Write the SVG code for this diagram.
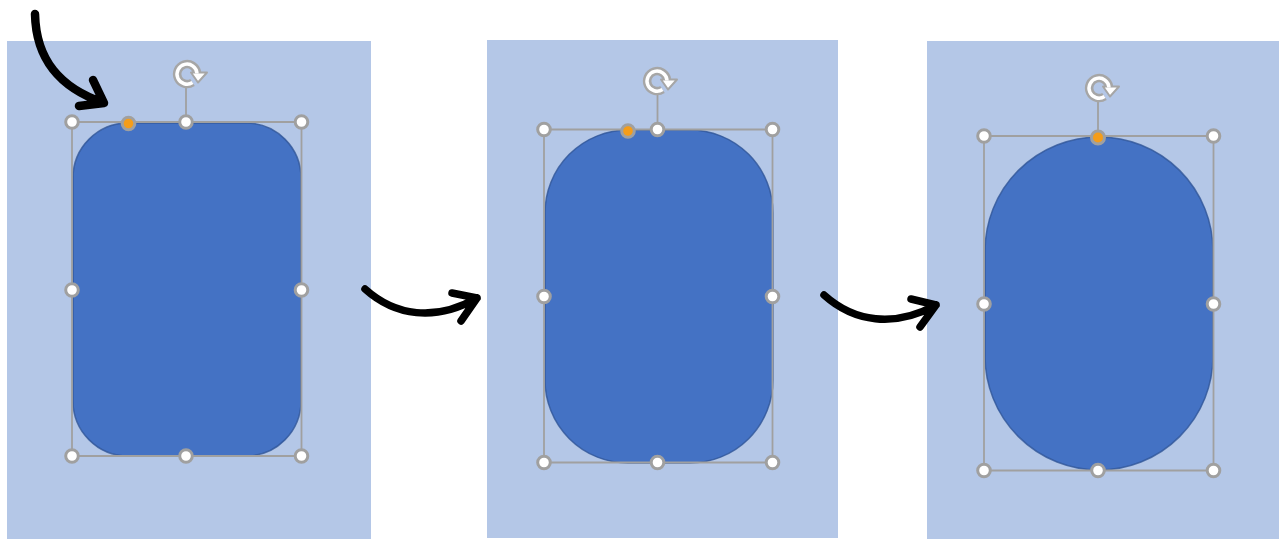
<svg xmlns="http://www.w3.org/2000/svg" xmlns:xlink="http://www.w3.org/1999/xlink" width="1279" height="539" viewBox="0 0 1279 539">
<style>
.panel{fill:#b4c7e7}
.shape{fill:#4472c4;stroke:#2f5597;stroke-opacity:.8;stroke-width:1.5}
.frame{fill:none;stroke:#a0a0a0;stroke-width:1.8}
.h{fill:#fff;stroke:#a0a0a0;stroke-width:3}
.o{fill:#f59d1a;stroke:#a0a0a0;stroke-width:3}
.ink{fill:none;stroke:#000;stroke-width:7.500;stroke-linecap:round;stroke-linejoin:round}
.ink2{fill:none;stroke:#000;stroke-width:8.500;stroke-linecap:round;stroke-linejoin:round}
.rotO{fill:none;stroke:#a6a6a6;stroke-width:8.500}
.rotI{fill:none;stroke:#fff;stroke-width:3.500}
</style>
<defs>
<g id="rot">
<path class="rotO" d="M6 8A10 10 0 1 1 10.500 -2"/>
<path d="M4.500 -2H20.500L11.500 8Z" fill="#fff" stroke="#a6a6a6" stroke-width="2" stroke-linejoin="round"/>
<path class="rotI" d="M6 8A10 10 0 1 1 10.500 -1"/>
</g>
</defs>
<rect class="panel" x="7" y="41" width="364" height="498"/>
<rect class="panel" x="487" y="40" width="351" height="498"/>
<rect class="panel" x="927" y="41" width="352" height="498"/>
<g id="node-1">
<rect class="shape" x="73" y="123" width="228" height="333" rx="55" ry="55"/>
<path class="frame" d="M72 122H301.500V456H72ZM186 122V88"/>
<use xlink:href="#rot" href="#rot" x="186.500" y="74.500"/>
<circle class="h" cx="72" cy="122" r="6.300"/><circle class="h" cx="186" cy="122" r="6.300"/><circle class="h" cx="301.500" cy="122" r="6.300"/>
<circle class="h" cx="72" cy="290" r="6.300"/><circle class="h" cx="301.500" cy="290" r="6.300"/>
<circle class="h" cx="72" cy="456" r="6.300"/><circle class="h" cx="186" cy="456" r="6.300"/><circle class="h" cx="301.500" cy="456" r="6.300"/>
<circle class="o" cx="128.500" cy="123.500" r="6.300"/>
</g>
<g id="node-2">
<rect class="shape" x="545" y="130" width="228" height="333" rx="83" ry="83"/>
<path class="frame" d="M544 129.500H772.500V462.500H544ZM657.500 129V95"/>
<use xlink:href="#rot" href="#rot" x="656.500" y="81.500"/>
<circle class="h" cx="544" cy="129.500" r="6.300"/><circle class="h" cx="657.500" cy="129.500" r="6.300"/><circle class="h" cx="772.500" cy="129.500" r="6.300"/>
<circle class="h" cx="544" cy="296.500" r="6.300"/><circle class="h" cx="772.500" cy="296.500" r="6.300"/>
<circle class="h" cx="544" cy="462.500" r="6.300"/><circle class="h" cx="657.500" cy="462.500" r="6.300"/><circle class="h" cx="772.500" cy="462.500" r="6.300"/>
<circle class="o" cx="628" cy="131" r="6.300"/>
</g>
<g id="node-3">
<rect class="shape" x="985" y="137" width="228" height="333" rx="114" ry="114"/>
<path class="frame" d="M984 136H1213.500V470.500H984ZM1098 136V102"/>
<use xlink:href="#rot" href="#rot" x="1098.500" y="88.500"/>
<circle class="h" cx="984" cy="136" r="6.300"/><circle class="h" cx="1213.500" cy="136" r="6.300"/>
<circle class="h" cx="984" cy="304" r="6.300"/><circle class="h" cx="1213.500" cy="304" r="6.300"/>
<circle class="h" cx="984" cy="470.500" r="6.300"/><circle class="h" cx="1098" cy="470.500" r="6.300"/><circle class="h" cx="1213.500" cy="470.500" r="6.300"/>
<circle class="o" cx="1098" cy="137.500" r="6.500"/>
</g>
<g id="connectors">
<path class="ink2" d="M35 14C36 60 60 88 104 103M93 80L104 103L79 106"/>
<path class="ink" d="M365 289C395 316 435 322 477 298M452 293L477 298L461 321"/>
<path class="ink" d="M824 295C854 322 894 328 936 305M911 299L936 305L920 327"/>
</g>
</svg>
